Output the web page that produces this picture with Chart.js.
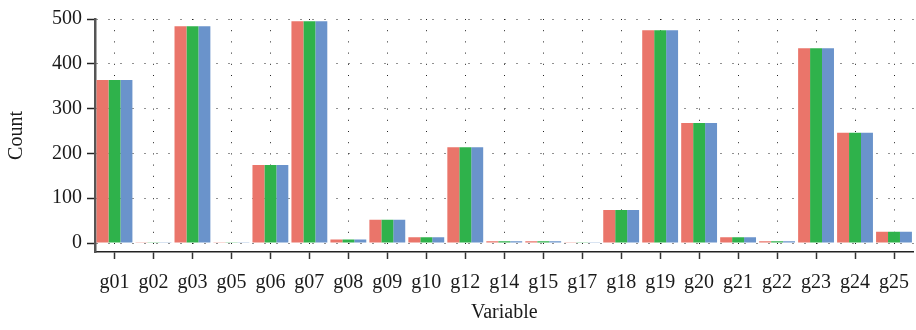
<!DOCTYPE html>
<html>
<head>
<meta charset="utf-8">
<script src="https://cdn.jsdelivr.net/npm/chart.js@4"></script>
<style>
  html, body { margin: 0; padding: 0; background: #fff; overflow: hidden; }
</style>
</head>
<body>
<canvas id="myChart" width="921" height="330"></canvas>
<script>
// values
const variables = ['g01', 'g02', 'g03', 'g05', 'g06', 'g07', 'g08', 'g09', 'g10', 'g12', 'g14',
                   'g15', 'g17', 'g18', 'g19', 'g20', 'g21', 'g22', 'g23', 'g24', 'g25'];
const countRed   = [364, 2, 484, 2, 174, 495, 8, 52, 13, 214, 4, 4, 2, 74, 475, 268, 13, 4, 435, 246, 25];
const countGreen = [364, 2, 484, 2, 174, 495, 8, 52, 13, 214, 4, 4, 2, 74, 475, 268, 13, 4, 435, 246, 25];
const countBlue  = [364, 2, 484, 2, 174, 495, 8, 52, 13, 214, 4, 4, 2, 74, 475, 268, 13, 4, 435, 246, 25];
const yTicks = [0, 50, 100, 150, 200, 250, 300, 350, 400, 450, 500];

const font = { family: "'Liberation Serif', 'Times New Roman', serif", size: 20 };

const ctx = document.getElementById('myChart');
new Chart(ctx, {
    type: 'bar',
    data: {
        labels: variables,
        datasets: [
            { label: 'A', data: countRed, backgroundColor: '#ea756a' },
            { label: 'B', data: countGreen, backgroundColor: '#2fb24b' },
            { label: 'C', data: countBlue, backgroundColor: '#6a93cb' }
        ]
    },
    options: {
        responsive: false,
        animation: false,
        devicePixelRatio: 1,
        categoryPercentage: 0.92,
        barPercentage: 1.0,
        layout: { padding: { top: 19, left: 0, right: 0, bottom: 0 } },
        plugins: { legend: { display: false }, tooltip: { enabled: false } },
        scales: {
            x: {
                afterFit: function (s) { s.height = 78; },
                grid: {
                    offset: false,
                    color: '#222',
                    lineWidth: 1,
                    tickLength: 7,
                    tickColor: '#333',
                    tickWidth: 1.5
                },
                border: { color: '#222', width: 1.5, dash: [1, 10.2] },
                ticks: { color: '#1a1a1a', font: font, padding: 12, maxRotation: 0, autoSkip: false },
                title: { display: true, text: 'Variable', color: '#1a1a1a', font: font, padding: { top: 0, bottom: 5 } }
            },
            y: {
                min: -20,
                max: 500,
                afterFit: function (s) { s.width = 95; },
                afterBuildTicks: function (s) { s.ticks = yTicks.map(v => ({ value: v })); },
                grid: {
                    color: '#222',
                    lineWidth: 1,
                    tickLength: 8,
                    tickWidth: 1.5,
                    tickColor: c => (c.tick && c.tick.value % 100 === 0) ? '#222' : 'rgba(0,0,0,0)'
                },
                border: { color: '#555', width: 2.5, dash: [1, 11] },
                ticks: {
                    color: '#1a1a1a',
                    font: font,
                    padding: 5,
                    callback: v => (v % 100 === 0 ? v : '')
                },
                title: { display: true, text: 'Count', color: '#1a1a1a', font: font, padding: { top: 5, bottom: 0 } }
            }
        }
    }
});
</script>
</body>
</html>
